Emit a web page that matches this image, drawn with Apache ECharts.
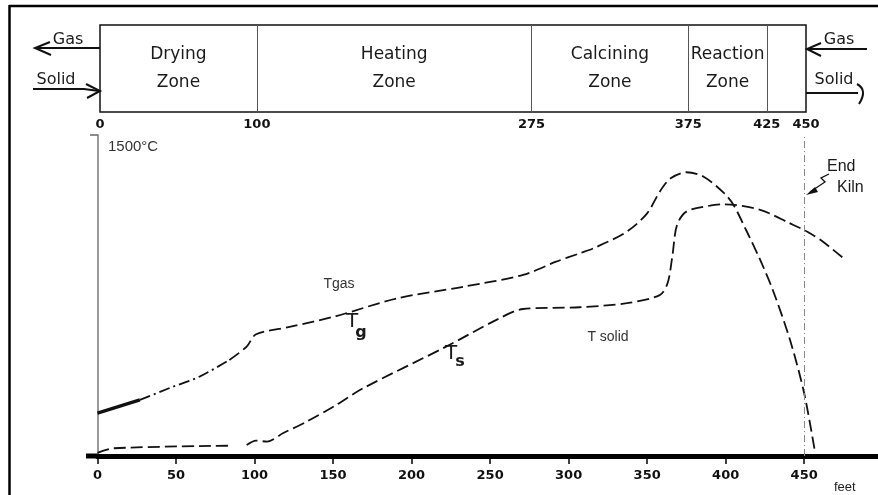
<!DOCTYPE html>
<html><head><meta charset="utf-8">
<script src="https://cdn.jsdelivr.net/npm/echarts@6/dist/echarts.min.js"></script>
<style>html,body{margin:0;padding:0;background:#fff}#c{width:878px;height:495px}</style>
</head><body><div id="c"></div>
<script>
// ---- data ----
const feetMax = 497;
const feetTicks = [0, 50, 100, 150, 200, 250, 300, 350, 400, 450];
const zoneBounds = [0, 100, 275, 375, 425, 450];
const zoneNames = ['Drying\nZone', 'Heating\nZone', 'Calcining\nZone', 'Reaction\nZone'];
const kilnEnd = 450;
// gas temperature (feet, °C)
const tgasFeet = [0, 27, 46, 65, 84, 95, 101, 123, 152, 191, 233, 271, 292, 307, 316, 337, 350, 358, 365, 375, 386, 399, 405, 413, 422, 430, 441, 450, 457];
const tgasVals = [200, 262, 318, 371, 449, 511, 569, 604, 654, 737, 791, 846, 908, 947, 971, 1048, 1134, 1235, 1298, 1326, 1305, 1228, 1173, 1056, 916, 776, 542, 293, 13];
// solid temperature (feet, °C); null = gap in the drawn curve
const tsolidFeet = [0, 10, 84, 90, 95, 101, 108, 118, 133, 151, 169, 222, 254, 271, 307, 337, 358, 363, 366, 369, 375, 390, 399, 422, 441, 452, 462, 475];
const tsolidVals = [15, 36, 48, null, 51, 72, 67, 106, 160, 234, 316, 511, 636, 687, 695, 714, 752, 807, 931, 1079, 1142, 1170, 1176, 1150, 1087, 1048, 1001, 924];

const tgas = tgasFeet.map((f, i) => [f, tgasVals[i]]);
const tsolid = tsolidFeet.map((f, i) => [f, tsolidVals[i] === null ? '-' : tsolidVals[i]]);
const gasSolidPart = tgas.filter(p => p[0] <= 27);
const gasDashDot = tgas.filter(p => p[0] >= 27 && p[0] <= 84);
const gasDashed = tgas.filter(p => p[0] >= 84);

const INK = '#111';
const dash = [12, 5];

const chart = echarts.init(document.getElementById('c'));
const txt = (x, y, text, size, extra) => Object.assign({
  type: 'text', x: x, y: y, silent: true,
  style: Object.assign({ text: text, fontSize: size, fontFamily: 'DejaVu Sans', fill: '#1a1a1a',
    textAlign: 'center', textVerticalAlign: 'middle' }, extra || {})
});
const line = (pts, w, c) => ({ type: 'polyline', silent: true, shape: { points: pts },
  style: { stroke: c || INK, lineWidth: w || 1.5, fill: null } });

chart.setOption({
  backgroundColor: '#fff',
  animation: false,
  grid: [
    { left: 97.5, top: 135, width: 780.5, height: 321 },
    { left: 100, top: 25, width: 706, height: 87, show: true, borderColor: '#111', borderWidth: 1.5, backgroundColor: 'transparent' }
  ],
  xAxis: [
    { type: 'value', gridIndex: 0, min: 0, max: feetMax,
      axisLine: { lineStyle: { color: '#000', width: 5 } },
      axisTick: { show: true, customValues: feetTicks, length: 8, lineStyle: { color: '#000', width: 1.5 } },
      axisLabel: { customValues: feetTicks, margin: 13, fontSize: 13, fontWeight: 'bold', fontFamily: 'DejaVu Sans', color: '#111' },
      splitLine: { show: false } },
    { type: 'value', gridIndex: 1, min: 0, max: 450,
      axisLine: { show: false }, axisTick: { show: false }, splitLine: { show: false },
      axisLabel: { customValues: zoneBounds, margin: 6, fontSize: 13, fontWeight: 'bold', fontFamily: 'DejaVu Sans', color: '#111' } }
  ],
  yAxis: [
    { type: 'value', gridIndex: 0, min: 0, max: 1500,
      axisLine: { show: true, lineStyle: { color: '#777', width: 1.5 } },
      axisTick: { show: false }, axisLabel: { show: false }, splitLine: { show: false } },
    { type: 'value', gridIndex: 1, min: 0, max: 1, show: false, splitLine: { show: false } }
  ],
  series: [
    { type: 'line', xAxisIndex: 0, yAxisIndex: 0, data: gasSolidPart, symbol: 'none', smooth: 0.3,
      lineStyle: { color: INK, width: 3.4 } },
    { type: 'line', xAxisIndex: 0, yAxisIndex: 0, data: gasDashDot, symbol: 'none', smooth: 0.3,
      lineStyle: { color: INK, width: 1.8, type: [11, 4, 2, 4] } },
    { type: 'line', xAxisIndex: 0, yAxisIndex: 0, data: gasDashed, symbol: 'none', smooth: 0.3,
      lineStyle: { color: INK, width: 1.8, type: dash } },
    { type: 'line', xAxisIndex: 0, yAxisIndex: 0, data: tsolid, symbol: 'none', smooth: 0.3, connectNulls: false,
      lineStyle: { color: INK, width: 1.8, type: dash },
      markLine: { silent: true, symbol: 'none', label: { show: false },
        lineStyle: { color: '#888', width: 1, type: [7, 3, 1, 3] },
        data: [{ xAxis: kilnEnd }] } },
    { type: 'line', xAxisIndex: 1, yAxisIndex: 1, data: [[0, 0]], symbol: 'none', lineStyle: { opacity: 0 },
      markLine: { silent: true, symbol: 'none', label: { show: false },
        lineStyle: { color: '#555', width: 1, type: 'solid' },
        data: zoneBounds.slice(1, -1).map(v => ({ xAxis: v })) },
      markArea: { silent: true, itemStyle: { color: 'rgba(0,0,0,0)' },
        label: { show: true, position: 'inside', fontSize: 17, lineHeight: 28, fontFamily: 'DejaVu Sans', color: '#1a1a1a' },
        data: zoneNames.map((n, i) => [{ xAxis: zoneBounds[i], name: n }, { xAxis: zoneBounds[i + 1] }]) } }
  ],
  graphic: [
    // frame
    line([[9, 6], [878, 6]], 2.5, '#000'),
    line([[9.5, 5], [9.5, 495]], 2.5, '#000'),
    // x axis extension left of 0 and y axis top hook
    { type: 'rect', silent: true, shape: { x: 86, y: 453.5, width: 12, height: 5 }, style: { fill: '#000' } },
    line([[90, 135], [98, 135]], 1.5, '#666'),
    txt(108, 147, '1500°C', 15, { textAlign: 'left', fontFamily: 'Liberation Sans', fill: '#333' }),
    // left Gas / Solid arrows
    txt(68, 40, 'Gas', 16),
    line([[35, 48], [100, 48]], 2),
    line([[50, 42], [35, 48], [51, 55]], 2),
    txt(56, 80, 'Solid', 16),
    line([[33, 89], [84, 89], [99, 91]], 2),
    line([[86, 84], [100, 91], [87, 98]], 2),
    // right Gas / Solid arrows
    txt(839, 40, 'Gas', 16),
    line([[807, 49], [867, 49]], 2),
    line([[821, 43], [807, 49], [821, 56]], 2),
    txt(834, 80, 'Solid', 16),
    line([[806, 93], [858, 93]], 2),
    { type: 'bezierCurve', silent: true, shape: { x1: 857, y1: 84, cpx1: 868, cpy1: 90, x2: 859, y2: 104 },
      style: { stroke: INK, lineWidth: 2, fill: null } },
    // curve labels
    txt(339, 284, 'Tgas', 14, { fontFamily: 'Liberation Sans', fill: '#333' }),
    txt(608, 337, 'T solid', 14, { fontFamily: 'Liberation Sans', fill: '#333' }),
    txt(352, 322, 'T', 20, {}),
    txt(361, 333, 'g', 16, { fontWeight: 'bold' }),
    txt(451, 354, 'T', 20, {}),
    txt(460, 362, 's', 16, { fontWeight: 'bold' }),
    // end of kiln
    txt(827, 167, 'End', 16, { textAlign: 'left', fontFamily: 'Liberation Sans' }),
    txt(837, 188, 'Kiln', 16, { textAlign: 'left', fontFamily: 'Liberation Sans' }),
    line([[829, 174], [821, 178], [825, 182], [810, 192]], 1.3),
    { type: 'polygon', silent: true, shape: { points: [[806, 195], [815, 187], [818, 192]] }, style: { fill: INK } },
    // feet unit
    txt(834, 487, 'feet', 13, { textAlign: 'left', fontFamily: 'Liberation Sans', fill: '#222' })
  ]
});
</script></body></html>
